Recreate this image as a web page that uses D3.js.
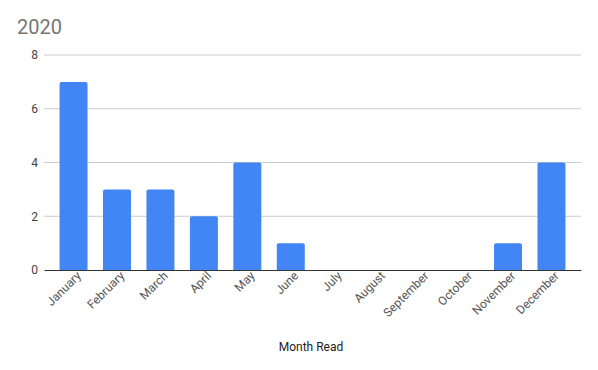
<!DOCTYPE html>
<html>
<head>
<meta charset="utf-8">
<script src="https://cdn.jsdelivr.net/npm/d3@7"></script>
<style>
  body { margin: 0; background: #fff; }
  svg { font-family: Roboto, Arial, sans-serif; }
</style>
</head>
<body>
<div id="chart"></div>
<script>
const months = ["January", "February", "March", "April", "May", "June", "July",
  "August", "September", "October", "November", "December"];
const booksRead = [7, 3, 3, 2, 4, 1, 0, 0, 0, 0, 1, 4];
const yTicks = [0, 2, 4, 6, 8];
const chartTitle = "2020";
const xTitle = "Month Read";

const w = 598, h = 370;
const m = { top: 55, right: 17, bottom: 100, left: 44 };
const iW = w - m.left - m.right;
const iH = h - m.top - m.bottom;

const svg = d3.select("#chart").append("svg")
  .attr("width", w)
  .attr("height", h);

svg.append("text")
  .attr("x", 17)
  .attr("y", 34)
  .style("font-size", "20px")
  .style("fill", "#757575")
  .text(chartTitle);

const g = svg.append("g").attr("transform", `translate(${m.left},${m.top})`);

const x = d3.scaleBand()
  .domain(months)
  .range([0, iW])
  .paddingInner(0.356)
  .paddingOuter(0.358);

const y = d3.scaleLinear()
  .domain([0, 8])
  .range([iH, 0]);

// gridlines
g.selectAll(".grid")
  .data(yTicks.filter(d => d > 0))
  .join("line")
  .attr("class", "grid")
  .attr("x1", 0).attr("x2", iW)
  .attr("y1", d => y(d)).attr("y2", d => y(d))
  .style("stroke", "#cccccc")
  .style("stroke-width", 1);

// y axis labels
const yAxis = g.append("g")
  .call(d3.axisLeft(y).tickValues(yTicks).tickSize(0).tickPadding(6));
yAxis.select(".domain").remove();
yAxis.selectAll("text")
  .style("font-size", "12px")
  .style("fill", "#444")
  .style("font-family", "Roboto, Arial, sans-serif");

// bars with rounded tops
const r = 2;
g.selectAll(".bar")
  .data(months.map((mo, i) => ({ month: mo, value: booksRead[i] })).filter(d => d.value > 0))
  .join("path")
  .attr("class", "bar")
  .attr("d", d => {
    const x0 = x(d.month), bw = x.bandwidth();
    const y0 = y(d.value), yb = y(0);
    return `M${x0},${yb}V${y0 + r}Q${x0},${y0} ${x0 + r},${y0}H${x0 + bw - r}Q${x0 + bw},${y0} ${x0 + bw},${y0 + r}V${yb}Z`;
  })
  .style("fill", "#4285f4");

// x axis
const xAxis = g.append("g")
  .attr("transform", `translate(0,${iH})`)
  .call(d3.axisBottom(x).tickSize(0).tickPadding(8));
xAxis.select(".domain")
  .style("stroke", "#333")
  .style("stroke-width", 1.2);
xAxis.selectAll("text")
  .style("font-size", "12px")
  .style("fill", "#555")
  .style("font-family", "Roboto, Arial, sans-serif")
  .style("text-anchor", "end")
  .attr("dx", "0.1em")
  .attr("dy", "0.2em")
  .attr("transform", "rotate(-45)");

svg.append("text")
  .attr("x", 311)
  .attr("y", 351)
  .style("text-anchor", "middle")
  .style("font-size", "12px")
  .style("fill", "#222")
  .text(xTitle);
</script>
</body>
</html>
